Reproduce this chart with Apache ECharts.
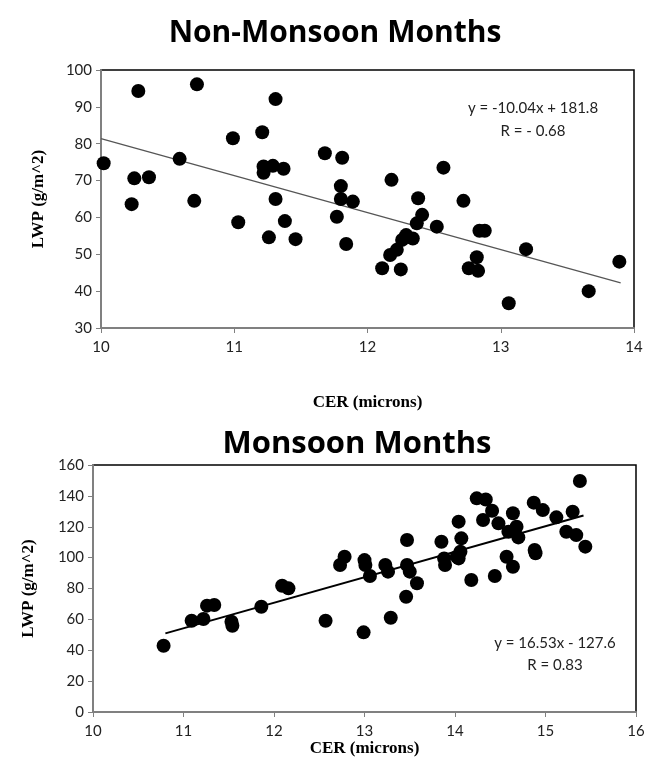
<!DOCTYPE html>
<html><head><meta charset="utf-8">
<script src="https://cdn.jsdelivr.net/npm/echarts@6/dist/echarts.min.js"></script>
<style>html,body{margin:0;padding:0;background:#fff}#c{width:659px;height:778px}</style>
</head><body><div id="c"></div>
<script>
// Non-monsoon months: CER (microns) vs LWP (g/m^2)
const nmCER = [10.02,10.23,10.25,10.28,10.36,10.59,10.70,10.72,10.99,11.03,11.21,11.22,11.22,11.29,11.26,11.31,11.31,11.37,11.38,11.46,11.68,11.77,11.80,11.81,11.80,11.84,11.89,12.11,12.17,12.18,12.22,12.25,12.26,12.29,12.34,12.37,12.38,12.41,12.52,12.57,12.72,12.76,12.82,12.83,12.84,12.88,13.06,13.19,13.66,13.89];
const nmLWP = [74.7,63.6,70.6,94.3,70.9,75.9,64.5,96.1,81.5,58.7,83.1,73.8,72.1,74.0,54.6,92.1,65.0,73.2,59.0,54.1,77.4,60.2,68.5,76.2,65.0,52.8,64.3,46.2,49.8,70.2,51.2,45.9,53.9,55.2,54.3,58.4,65.2,60.7,57.5,73.5,64.5,46.2,49.2,45.5,56.4,56.4,36.7,51.4,40.0,48.0];
const nmFit = {slope: -10.04, intercept: 181.8, xFrom: 10.0, xTo: 13.9};
const nmEq = ["y = -10.04x + 181.8", "R = - 0.68"];
const nmXTicks = [10, 11, 12, 13, 14];
const nmYTicks = [30, 40, 50, 60, 70, 80, 90, 100];

// Monsoon months
const mCER = [10.78,11.09,11.22,11.26,11.34,11.53,11.54,11.86,12.09,12.16,12.57,12.73,12.78,12.99,13.00,13.01,13.06,13.23,13.26,13.29,13.46,13.47,13.47,13.50,13.58,13.85,13.88,13.89,14.02,14.04,14.04,14.06,14.07,14.18,14.24,14.31,14.34,14.41,14.44,14.48,14.57,14.59,14.64,14.64,14.68,14.70,14.87,14.88,14.89,14.97,15.12,15.23,15.30,15.34,15.38,15.44];
const mLWP = [42.9,59.1,60.2,68.9,69.3,58.5,55.9,68.2,81.8,80.1,59.1,95.2,100.6,51.6,98.4,95.2,88.1,95.2,90.9,61.1,74.7,111.4,95.2,90.9,83.4,110.3,99.5,95.2,100.6,123.3,99.5,103.8,112.5,85.5,138.4,124.4,137.7,130.4,88.1,122.2,100.6,116.8,128.7,94.1,120.0,113.1,135.6,104.9,102.8,130.8,126.1,116.8,129.7,114.6,149.6,107.1];
const mFit = {slope: 16.53, intercept: -127.6, xFrom: 10.8, xTo: 15.42};
const mEq = ["y = 16.53x - 127.6", "R = 0.83"];
const mXTicks = [10, 11, 12, 13, 14, 15, 16];
const mYTicks = [0, 20, 40, 60, 80, 100, 120, 140, 160];

const pts = (xs, ys) => xs.map((x, i) => [x, ys[i]]);
const fitLine = f => [[f.xFrom, f.slope * f.xFrom + f.intercept], [f.xTo, f.slope * f.xTo + f.intercept]];

const tickFont = {fontFamily: 'Lato, "Open Sans", sans-serif', fontSize: 15, color: '#222'};
function xAxis(gi, ticks, gap) {
  return {
    type: 'value', gridIndex: gi, min: ticks[0], max: ticks[ticks.length - 1], interval: ticks[1] - ticks[0],
    name: 'CER (microns)', nameLocation: 'middle', nameGap: gap,
    nameTextStyle: {fontFamily: '"Liberation Serif", serif', fontWeight: 'bold', fontSize: 17, color: '#000'},
    axisLine: {show: true, onZero: false, lineStyle: {color: '#808080', width: 2}},
    axisTick: {show: true, inside: false, length: 5, lineStyle: {color: '#808080'}},
    axisLabel: Object.assign({margin: 12}, tickFont),
    splitLine: {show: false}
  };
}
function yAxis(gi, ticks, gap) {
  return {
    type: 'value', gridIndex: gi, min: ticks[0], max: ticks[ticks.length - 1], interval: ticks[1] - ticks[0],
    name: 'LWP (g/m^2)', nameLocation: 'middle', nameGap: gap, nameRotate: 90,
    nameTextStyle: {fontFamily: '"Liberation Serif", serif', fontWeight: 'bold', fontSize: 17, color: '#000'},
    axisLine: {show: true, onZero: false, lineStyle: {color: '#808080', width: 2}},
    axisTick: {show: true, inside: false, length: 5, lineStyle: {color: '#808080'}},
    axisLabel: Object.assign({margin: 9}, tickFont),
    splitLine: {show: false}
  };
}
const eqStyle = {fontFamily: 'Lato, "Open Sans", sans-serif', fontSize: 15, fill: '#222', textAlign: 'center', textVerticalAlign: 'middle'};

const chart = echarts.init(document.getElementById('c'), null, {renderer: 'canvas'});
chart.setOption({
  animation: false,
  backgroundColor: '#fff',
  title: [
    {text: 'Non-Monsoon Months', left: 330, top: 13, textAlign: 'center',
     textStyle: {fontFamily: '"Open Sans", sans-serif', fontWeight: 'bold', fontSize: 30, color: '#000'}},
    {text: 'Monsoon Months', left: 352, top: 424, textAlign: 'center',
     textStyle: {fontFamily: '"Open Sans", sans-serif', fontWeight: 'bold', fontSize: 31, color: '#000'}}
  ],
  grid: [
    {left: 101, top: 70, width: 533, height: 258, show: true, borderColor: '#000', borderWidth: 1.5},
    {left: 93, top: 465, width: 543, height: 247, show: true, borderColor: '#000', borderWidth: 1.5}
  ],
  xAxis: [xAxis(0, nmXTicks, 66), xAxis(1, mXTicks, 19)],
  yAxis: [yAxis(0, nmYTicks, 54), yAxis(1, mYTicks, 56)],
  series: [
    {type: 'scatter', xAxisIndex: 0, yAxisIndex: 0, data: pts(nmCER, nmLWP), symbolSize: 14, itemStyle: {color: '#000', opacity: 1}},
    {type: 'line', xAxisIndex: 0, yAxisIndex: 0, data: fitLine(nmFit), symbol: 'none', lineStyle: {color: '#555', width: 1.2}, z: 1},
    {type: 'scatter', xAxisIndex: 1, yAxisIndex: 1, data: pts(mCER, mLWP), symbolSize: 14, itemStyle: {color: '#000', opacity: 1}},
    {type: 'line', xAxisIndex: 1, yAxisIndex: 1, data: fitLine(mFit), symbol: 'none', lineStyle: {color: '#000', width: 2}, z: 1}
  ],
  graphic: [
    {type: 'text', x: 533, y: 108, style: Object.assign({text: nmEq[0]}, eqStyle)},
    {type: 'text', x: 533, y: 131, style: Object.assign({text: nmEq[1]}, eqStyle)},
    {type: 'text', x: 555, y: 643, style: Object.assign({text: mEq[0]}, eqStyle)},
    {type: 'text', x: 555, y: 665, style: Object.assign({text: mEq[1]}, eqStyle)}
  ]
});
</script>
</body></html>
